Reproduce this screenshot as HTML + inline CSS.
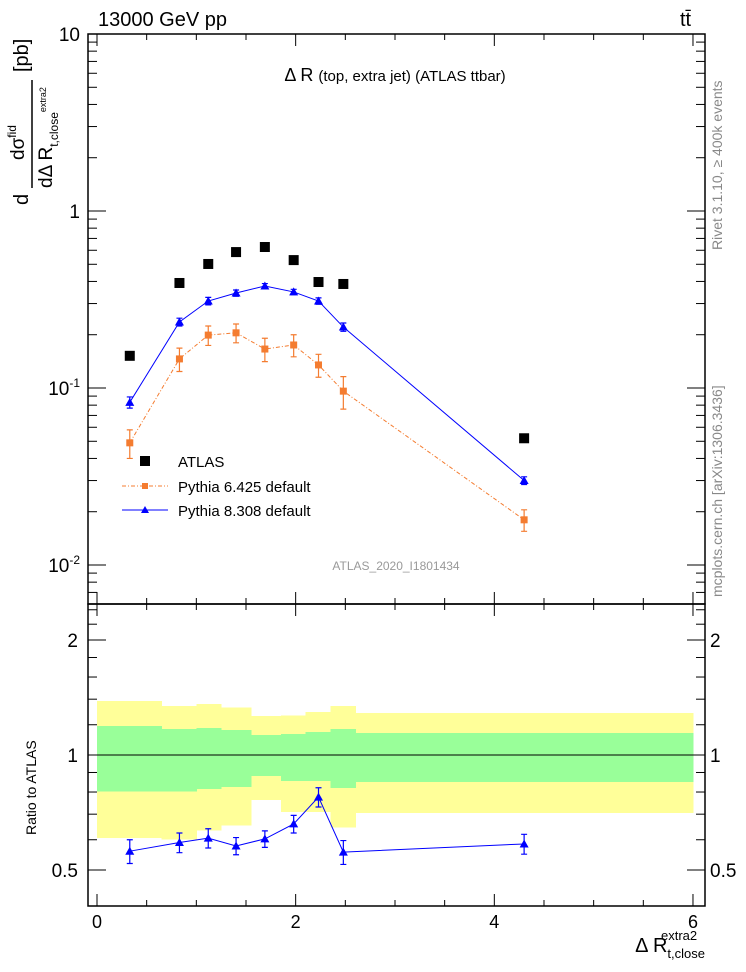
<!DOCTYPE html>
<html><head><meta charset="utf-8"><style>
body{margin:0;background:#fff}
svg{display:block;font-family:"Liberation Sans",sans-serif}
#bands rect{shape-rendering:crispEdges}
</style></head><body>
<svg id="c" width="746" height="972" xmlns="http://www.w3.org/2000/svg">
<g id="bands"></g>
<g id="main"></g>
<g id="ratio"></g>
<g id="axes"></g>
<text x="98" y="26" font-size="20">13000 GeV pp</text>
<text x="680" y="26" font-size="20">tt̄</text>
<text x="395" y="81" font-size="18" text-anchor="middle">Δ R <tspan font-size="15">(top, extra jet) (ATLAS ttbar)</tspan></text>
<text x="396" y="570" font-size="12" fill="#999" text-anchor="middle">ATLAS_2020_I1801434</text>
<text transform="translate(722,250) rotate(-90)" font-size="14" fill="#888">Rivet 3.1.10, ≥ 400k events</text>
<text transform="translate(722,597) rotate(-90)" font-size="14" fill="#888">mcplots.cern.ch [arXiv:1306.3436]</text>
<g>
<text transform="translate(28,205) rotate(-90)" font-size="20">d</text>
<line x1="32" y1="188" x2="32" y2="80" stroke="#000" stroke-width="1.5"/>
<text transform="translate(24,160) rotate(-90)" font-size="19">dσ<tspan font-size="12" dy="-8">fid</tspan></text>
<text transform="translate(52,188) rotate(-90)" font-size="19">dΔ R<tspan font-size="12" dy="6">t,close</tspan><tspan font-size="9" dy="-12">extra2</tspan></text>
<text transform="translate(28,72) rotate(-90)" font-size="20">[pb]</text>
</g>
<text transform="translate(36,835) rotate(-90)" font-size="14">Ratio to ATLAS</text>
<text x="705" y="952" font-size="20" text-anchor="end">Δ R<tspan font-size="13" dy="6">t,close</tspan><tspan font-size="13" dx="-44" dy="-18">extra2</tspan></text>
<g>
<rect x="140" y="456" width="10" height="10" fill="#000"/>
<text x="178" y="467" font-size="15">ATLAS</text>
<line x1="122" y1="486" x2="168" y2="486" stroke="#f47c30" stroke-dasharray="4,2,1,2"/>
<rect x="142" y="483" width="6" height="6" fill="#f47c30"/>
<text x="178" y="492" font-size="15">Pythia 6.425 default</text>
<line x1="122" y1="510" x2="168" y2="510" stroke="#00f"/>
<path d="M145,506 L149,513 L141,513Z" fill="#00f"/>
<text x="178" y="516" font-size="15">Pythia 8.308 default</text>
</g>
</svg>
<script>
const xCenters=[0.33,0.83,1.12,1.40,1.69,1.98,2.23,2.48,4.30];
const atlas=[0.152,0.392,0.502,0.586,0.626,0.528,0.397,0.387,0.052];
const py8=[0.083,0.236,0.310,0.344,0.377,0.349,0.310,0.221,0.030];
const py8Err=[0.006,0.012,0.015,0.014,0.012,0.012,0.013,0.012,0.0015];
const py6=[0.049,0.146,0.199,0.205,0.166,0.175,0.135,0.096,0.018];
const py6Err=[0.009,0.022,0.025,0.025,0.025,0.025,0.02,0.02,0.0025];
const ratio8=[0.56,0.59,0.606,0.578,0.603,0.66,0.776,0.557,0.585];
const ratio8Err=[0.04,0.035,0.035,0.03,0.03,0.035,0.045,0.04,0.035];
const binEdges=[0,0.65,1.0,1.25,1.55,1.85,2.1,2.35,2.6,6];
const yelUp=[1.385,1.344,1.36,1.33,1.265,1.27,1.296,1.344,1.288];
const grnUp=[1.19,1.17,1.177,1.163,1.128,1.135,1.149,1.17,1.142];
const grnLo=[0.802,0.802,0.815,0.825,0.881,0.855,0.855,0.82,0.85];
const yelLo=[0.607,0.601,0.634,0.653,0.763,0.71,0.71,0.645,0.706];
const xTicks=[0,2,4,6];
const yTicks=[10,1,0.1,0.01];
const rTicks=[2,1,0.5];

const NS="http://www.w3.org/2000/svg";
const L=88,R=705,T=34,MB=604,RT=604,RB=906;
const X=v=>97+v*99.33;
const Y=v=>211-Math.log10(v)*177;
const RY=v=>755-Math.log10(v)*382;
function mk(p,tag,a){const e=document.createElementNS(NS,tag);for(const k in a)e.setAttribute(k,a[k]);p.appendChild(e);return e;}
const main=document.getElementById('main'),ratio=document.getElementById('ratio'),bands=document.getElementById('bands'),axes=document.getElementById('axes');

for(let i=0;i<yelUp.length;i++){
 const x0=X(binEdges[i]),x1=X(binEdges[i+1]);
 const y=mk(bands,'rect',{x:x0,y:RY(yelUp[i]),width:x1-x0+0.5,height:RY(yelLo[i])-RY(yelUp[i]),fill:'#ffff99'});
 
 
}
for(let i=0;i<yelUp.length;i++){
 const x0=X(binEdges[i]),x1=X(binEdges[i+1]);
 const g=mk(bands,'rect',{x:x0,y:RY(grnUp[i]),width:x1-x0+0.5,height:RY(grnLo[i])-RY(grnUp[i]),fill:'#99ff99'});
 
 
}
mk(bands,'line',{x1:X(0),x2:X(6),y1:RY(1),y2:RY(1),stroke:'#000'});

function series(g,vals,errs,fy,color,dash,marker,name){
 const pts=xCenters.map((x,i)=>X(x)+','+fy(vals[i])).join(' ');
 const pl=mk(g,'polyline',{points:pts,fill:'none',stroke:color,'stroke-width':1,'stroke-dasharray':dash||'none'});
 
 
 vals.forEach((v,i)=>{
  const cx=X(xCenters[i]),cy=fy(v),y1=fy(v+errs[i]),y2=fy(v-errs[i]);
  mk(g,'path',{d:`M${cx},${y1}V${y2}M${cx-3},${y1}H${cx+3}M${cx-3},${y2}H${cx+3}`,stroke:color,'stroke-width':1.2});
  let m;
  if(marker==='sq') m=mk(g,'rect',{x:cx-3.5,y:cy-3.5,width:7,height:7,fill:color});
  else m=mk(g,'path',{d:`M${cx},${cy-4.5}L${cx+4.5},${cy+3.5}L${cx-4.5},${cy+3.5}Z`,fill:color});
  
  
 });
}
series(main,py6,py6Err,Y,'#f47c30','4,2,1,2','sq','pythia6');
series(main,py8,py8Err,Y,'#0000ff',null,'tri','pythia8');
atlas.forEach((v,i)=>{
 const r=mk(main,'rect',{x:X(xCenters[i])-5,y:Y(v)-5,width:10,height:10,fill:'#000'});
 
 
});
series(ratio,ratio8,ratio8Err,RY,'#0000ff',null,'tri','ratio-pythia8');

mk(axes,'rect',{x:L,y:T,width:R-L,height:MB-T,fill:'none',stroke:'#000','stroke-width':1.5});
mk(axes,'rect',{x:L,y:RT,width:R-L,height:RB-RT,fill:'none',stroke:'#000','stroke-width':1.5});
for(let v=0;v<=6.01;v+=0.5){
 const len=(Math.abs(v-Math.round(v/2)*2)<1e-6)?12:6;
 [[T,1],[MB,-1],[RT,1],[RB,-1]].forEach(([y,d])=>mk(axes,'line',{x1:X(v),x2:X(v),y1:y,y2:y+d*len,stroke:'#000'}));
}
xTicks.forEach(v=>{const t=mk(axes,'text',{x:X(v),y:928,'font-size':18,'text-anchor':'middle'});t.textContent=v;
 
 });
for(let d=-3;d<=1;d++)for(let k=1;k<10;k++){
 const v=k*Math.pow(10,d),y=Y(v);if(y<T-0.5||y>MB)continue;
 const len=k===1?18:9;
 mk(axes,'line',{x1:L,x2:L+len,y1:y,y2:y,stroke:'#000'});
 mk(axes,'line',{x1:R,x2:R-len,y1:y,y2:y,stroke:'#000'});
}
yTicks.forEach(v=>{
 const y=Y(v);
 const t=mk(axes,'text',{x:80,y:y+7,'font-size':19,'text-anchor':'end'});
 if(v>=1)t.textContent=v;else{t.textContent='10';const s=mk(t,'tspan',{'font-size':12,dy:-8});s.textContent=String(Math.round(Math.log10(v)));}
 
 
});
[0.4,0.5,0.6,0.7,0.8,0.9,1,1.2,1.4,1.6,1.8,2,2.2,2.4].forEach(v=>{
 const y=RY(v);if(y<RT||y>RB)return;
 const len=(v===0.5||v===1||v===2)?18:9;
 mk(axes,'line',{x1:L,x2:L+len,y1:y,y2:y,stroke:'#000'});
 mk(axes,'line',{x1:R,x2:R-len,y1:y,y2:y,stroke:'#000'});
});
rTicks.forEach(v=>{
 const y=RY(v);
 const t=mk(axes,'text',{x:78,y:y+7,'font-size':19,'text-anchor':'end'});t.textContent=v;
 
 
 const t2=mk(axes,'text',{x:710,y:y+7,'font-size':19});t2.textContent=v;
 
 
});
</script>
</body></html>
